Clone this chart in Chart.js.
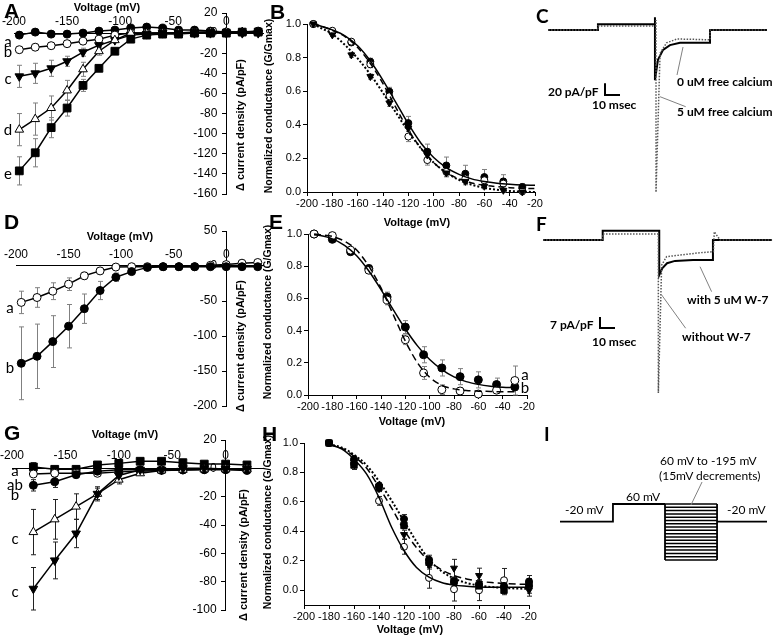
<!DOCTYPE html>
<html><head><meta charset="utf-8">
<script src="https://cdn.jsdelivr.net/npm/chart.js@4.4.1/dist/chart.umd.min.js"></script>
<style>
html,body{margin:0;padding:0;background:#fff;}
#fig{position:relative;width:778px;height:639px;overflow:hidden;background:#fff;font-family:'Liberation Sans',Arial,sans-serif;}
canvas{position:absolute;}
.t{position:absolute;white-space:nowrap;line-height:1;color:#000;}
.c{transform:translate(-50%,-50%);}
.r{transform:translate(-50%,-50%) rotate(-90deg);}
.ax{font:bold 11px 'Liberation Sans',Arial,sans-serif;}
.axs{font:bold 10.5px 'Liberation Sans',Arial,sans-serif;}
.pl{font:bold 21px 'Liberation Sans',Arial,sans-serif;}
.pl2{font:bold 19px Lato,sans-serif;}
.sl{font:15px Lato,sans-serif;}
.an{font:bold 12px Lato,sans-serif;}
.pr{font:12px Lato,sans-serif;}
</style></head>
<body>
<div id="fig">
<canvas id="cA" width="270" height="210" style="left:0;top:0"></canvas>
<canvas id="cB" width="285" height="228" style="left:260px;top:0"></canvas>
<canvas id="cC" width="258" height="210" style="left:520px;top:0"></canvas>
<canvas id="cD" width="270" height="210" style="left:0;top:210px"></canvas>
<canvas id="cE" width="285" height="215" style="left:260px;top:210px"></canvas>
<canvas id="cF" width="258" height="210" style="left:520px;top:210px"></canvas>
<canvas id="cG" width="270" height="219" style="left:0;top:420px"></canvas>
<canvas id="cH" width="285" height="219" style="left:260px;top:420px"></canvas>
<canvas id="cI" width="258" height="219" style="left:520px;top:420px"></canvas>

<!-- panel letters -->
<div class="t pl" style="left:4px;top:-1px">A</div>
<div class="t pl" style="left:270px;top:0px">B</div>
<div class="t pl2" style="left:536px;top:4px">C</div>
<div class="t pl" style="left:4px;top:210px">D</div>
<div class="t pl" style="left:269px;top:210px">E</div>
<div class="t pl2" style="left:536px;top:212px">F</div>
<div class="t pl" style="left:4px;top:421px">G</div>
<div class="t pl" style="left:262px;top:422px">H</div>
<div class="t pl2" style="left:544px;top:422px">I</div>

<!-- axis titles -->
<div class="t ax c" style="left:107px;top:7px">Voltage (mV)</div>
<div class="t ax r" style="left:240px;top:125px">Δ current density (pA/pF)</div>
<div class="t ax c" style="left:417px;top:222px">Voltage (mV)</div>
<div class="t axs r" style="left:268px;top:106px">Normalized conductance (G/Gmax)</div>
<div class="t ax c" style="left:120px;top:236px">Voltage (mV)</div>
<div class="t ax r" style="left:240px;top:346px">Δ current density (pA/pF)</div>
<div class="t ax c" style="left:412px;top:421px">Voltage (mV)</div>
<div class="t axs r" style="left:267px;top:312px">Normalized conductance (G/Gmax)</div>
<div class="t ax c" style="left:125px;top:434px">Voltage (mV)</div>
<div class="t ax r" style="left:243px;top:555px">Δ current density (pA/pF)</div>
<div class="t ax c" style="left:410px;top:629px">Voltage (mV)</div>
<div class="t axs r" style="left:267px;top:522px">Normalized conductance (G/Gmax)</div>

<!-- series letters -->
<div class="t sl c" style="left:8px;top:41px">a</div>
<div class="t sl c" style="left:8px;top:51px">b</div>
<div class="t sl c" style="left:8px;top:78px">c</div>
<div class="t sl c" style="left:8px;top:129px">d</div>
<div class="t sl c" style="left:8px;top:173px">e</div>
<div class="t sl c" style="left:10px;top:307px">a</div>
<div class="t sl c" style="left:10px;top:367px">b</div>
<div class="t sl c" style="left:525px;top:374px">a</div>
<div class="t sl c" style="left:525px;top:387px">b</div>
<div class="t sl c" style="left:15px;top:470px">a</div>
<div class="t sl c" style="left:15px;top:484px">ab</div>
<div class="t sl c" style="left:15px;top:494px">b</div>
<div class="t sl c" style="left:15px;top:538px">c</div>
<div class="t sl c" style="left:15px;top:591px">c</div>

<!-- trace annotations -->
<div class="t an" style="left:548px;top:84px">20 pA/pF</div>
<div class="t an" style="left:592px;top:97px">10 msec</div>
<div class="t an" style="left:677px;top:74px">0 uM free calcium</div>
<div class="t an" style="left:677px;top:104px">5 uM free calcium</div>
<div class="t an" style="left:550px;top:317px">7 pA/pF</div>
<div class="t an" style="left:592px;top:334px">10 msec</div>
<div class="t an" style="left:687px;top:292px">with 5 uM W-7</div>
<div class="t an" style="left:682px;top:329px">without W-7</div>

<!-- protocol annotations -->
<div class="t pr" style="left:565px;top:502px">-20 mV</div>
<div class="t pr" style="left:626px;top:489px">60 mV</div>
<div class="t pr" style="left:727px;top:502px">-20 mV</div>
<div class="t pr" style="left:660px;top:453px">60 mV to -195 mV</div>
<div class="t pr" style="left:659px;top:468px">(15mV decrements)</div>
</div>

<script>
// ---------------- DATA ----------------
// Panel A: current density vs voltage
const aVolt  = [-195,-180,-165,-150,-135,-120,-105,-90,-75,-60,-45,-30,-15,0,15,30];
const aSerA  = [-2,1,-1,-1,0,2,3,5,6,5,3,3,2,1,1,2];
const aSerB  = [-16.5,-14,-12.5,-10.5,-8,-6,-2,0,0,0,0,1,1,1,1,1];
const aSerC  = [-43,-40,-35,-28,-19,-12,-7,-2,-1,0,0,0,0,0,0,0];
const aSerD  = [-96,-85.5,-74.5,-57,-36,-18,-7,0,0,0,0,0,1,1,1,1];
const aSerE  = [-137,-119,-94,-74.5,-52,-35,-18,-6,-2,-1,-1,0,0,0,1,1];
const aErrA  = [2,1,1,1,1,1,1,1,1,1,1,1,1,1,1,1];
const aErrB  = [3,3,3,3,2,2,1,1,1,1,1,1,1,1,1,1];
const aErrC  = [11,10,8,5,4,3,2,1,1,1,1,1,1,1,1,1];
const aErrD  = [16,16,12,10,7,4,2,1,1,1,1,1,1,1,1,1];
const aErrE  = [14,14,10,8,6,3,2,1,1,1,1,1,1,1,1,1];
const aXTicks = [-200,-150,-100,-50,0];
const aYTicks = [20,0,-20,-40,-60,-80,-100,-120,-140,-160];

// Panel B: normalized conductance
const bVolt   = [-195,-180,-165,-150,-135,-120,-105,-90,-75,-60,-45,-30];
const bFilled = [1.0,0.955,0.89,0.776,0.598,0.41,0.24,0.158,0.109,0.089,0.063,0.03];
const bOpen   = [1.0,0.96,0.895,0.76,0.57,0.33,0.19,0.12,0.08,0.07,0.05,0.005];
const bTri    = [1.0,0.935,0.816,0.687,0.53,0.38,0.22,0.113,0.063,0.034,0.01,0.0];
const bErrFilled = [0,0.01,0.01,0.02,0.025,0.04,0.045,0.05,0.05,0.045,0.04,0.02];
const bErrOpen   = [0,0.01,0.01,0.02,0.02,0.03,0.03,0.03,0.03,0.03,0.03,0.02];
const bErrTri    = [0,0.01,0.015,0.015,0.02,0.02,0.02,0.02,0.02,0.015,0.01,0.01];
const bFitVolt   = [-195,-190,-180,-170,-160,-150,-140,-130,-120,-110,-100,-90,-80,-70,-60,-50,-40,-30,-20];
const bFitSolid  = [1.0,0.99,0.965,0.93,0.87,0.78,0.665,0.535,0.405,0.29,0.205,0.145,0.105,0.078,0.062,0.052,0.046,0.042,0.04];
const bFitDashed = [1.0,0.99,0.962,0.925,0.86,0.765,0.645,0.505,0.37,0.26,0.175,0.115,0.078,0.054,0.04,0.032,0.026,0.022,0.02];
const bFitDotted = [1.0,0.98,0.94,0.875,0.795,0.70,0.59,0.475,0.36,0.26,0.175,0.115,0.072,0.043,0.025,0.013,0.006,0.002,0.0];
const condXTicks = [-200,-180,-160,-140,-120,-100,-80,-60,-40,-20];
const condYTicks = [0,0.2,0.4,0.6,0.8,1.0];

// Panel C: current traces (time ms, current pA/pF)
const cTime0  = [0,33.3,33.3,71.3,71.3,71.3,73.3,76.7,81.3,88,97,108,108,146];
const cZeroCa = [0,0,10,10,22,-86,-51,-34,-26,-22,-22,-22,0,0];
const cTime5  = [0,33.3,33.3,72,72,72,74.7,79,86,97,108,108,146];
const cFiveCa = [0,0,7,7,17,-278,-40,-22,-15.5,-16,-17,0,0];
const cBarT = [38,38,48];
const cBarI = [-91.5,-111.5,-111.5];

// Panel D
const dVolt  = [-195,-180,-165,-150,-135,-120,-105,-90,-75,-60,-45,-30,-15,0,15,30];
const dSerA  = [-52,-45,-36,-26,-14,-7,-1.5,-1,-1,-1,-1,-1,1,2,4,5];
const dSerB  = [-139,-129,-108,-86,-61,-35,-16,-8,-2,-1,-1,-1,-1,-1,-1,-1];
const dErrA  = [16,14,12,9,5,3,1,1,1,1,1,1,1,1,1,1];
const dErrB  = [52,46,37,31,21,13,6,2,1,1,1,1,1,1,1,1];
const dXTicks = [-200,-150,-100,-50,0];
const dYTicks = [50,0,-50,-100,-150,-200];

// Panel E
const eVolt   = [-195,-180,-165,-150,-135,-120,-105,-90,-75,-60,-45,-30];
const eFilled = [1.0,0.967,0.89,0.786,0.609,0.422,0.25,0.168,0.114,0.094,0.065,0.05];
const eOpen   = [1.0,0.99,0.9,0.775,0.59,0.343,0.137,0.033,0.025,0.006,0.03,0.09];
const eErrFilled = [0,0.01,0.01,0.02,0.03,0.04,0.05,0.05,0.05,0.05,0.04,0.02];
const eErrOpen   = [0,0.01,0.01,0.02,0.03,0.03,0.04,0.03,0.02,0.02,0.02,0.09];
const eFitVolt   = [-195,-190,-180,-170,-160,-150,-140,-130,-120,-110,-100,-90,-80,-70,-60,-50,-40,-30];
const eFitSolid  = [0.995,0.99,0.97,0.93,0.865,0.77,0.655,0.53,0.41,0.305,0.22,0.158,0.113,0.083,0.066,0.055,0.048,0.045];
const eFitDashed = [1.0,0.995,0.985,0.955,0.9,0.80,0.665,0.50,0.335,0.20,0.11,0.06,0.038,0.028,0.024,0.022,0.02,0.02];

// Panel F: current traces
const fTimeW  = [0,39.8,39.8,77.5,77.5,79.5,82.7,88,100,113.3,113.3,152.7];
const fWithW7 = [0,0,5.9,5.9,-22.3,-18,-14.8,-13.3,-12.7,-12.7,0,0];
const fTimeNo = [0,39.8,39.8,76.9,76.9,79.1,82.4,91.3,104.7,113.6,114.2,118,152.7];
const fWithout= [0,0,3.8,3.8,-97.5,-16,-10.6,-9.6,-8.1,-7.4,5.3,0,0];
const fBarT = [38,38,48];
const fBarI = [-49,-56,-56];

// Panel G
const gVolt      = [-180,-160,-140,-120,-100,-80,-60,-40,-20,0,20];
const gSquare    = [1,-0.7,-0.7,2.4,3.5,5,5,4,3,3,2.4];
const gOpenCirc  = [-4,-3.5,-3.5,-3.5,-2.5,-2,-1.5,-1.2,-0.7,-0.5,-0.5];
const gFillCirc  = [-12,-9.5,-4.5,-2,-1,-1,-1,-1,-1,-1,-1.5];
const gOpenTri   = [-45,-36,-27,-18,-8,-3.5,-1.5,-1,-0.7,-0.7,-0.7];
const gFillTri   = [-85,-65,-46,-18,-5,-1,-1,0,0,-0.5,-0.5];
const gErrSquare = [3,2,2,2,1,1,1,1,1,1,1];
const gErrOpenCirc = [2,2,2,1,1,1,1,1,1,1,1];
const gErrFillCirc = [4,4,2,1,1,1,1,1,1,1,1];
const gErrOpenTri  = [16,14,9,5,3,1,1,1,1,1,1];
const gErrFillTri  = [15,13,10,4,1,1,1,1,1,1,1];
const gXTicks = [-200,-150,-100,-50,0];
const gYTicks = [20,0,-20,-40,-60,-80,-100];

// Panel H
const hVolt    = [-180,-160,-140,-120,-100,-80,-60,-40,-20];
const hOpen    = [1.0,0.86,0.607,0.295,0.084,0.007,0.0,0.068,0.03];
const hFilled  = [1.0,0.89,0.71,0.484,0.208,0.057,0.04,0.03,0.06];
const hTri     = [1.0,0.87,0.69,0.378,0.174,0.15,0.10,0.016,0.0];
const hSquare  = [1.0,0.85,0.70,0.44,0.19,0.06,0.03,0.0,0.04];
const hErrOpen   = [0,0.02,0.03,0.05,0.07,0.08,0.07,0.08,0.05];
const hErrFilled = [0,0.02,0.02,0.03,0.03,0.03,0.03,0.03,0.04];
const hErrTri    = [0,0.02,0.02,0.03,0.03,0.06,0.05,0.03,0.04];
const hErrSquare = [0,0.03,0.02,0.02,0.03,0.02,0.02,0.03,0.03];
const hFitVolt   = [-180,-170,-160,-150,-140,-130,-120,-110,-100,-90,-80,-70,-60,-50,-40,-30,-20];
const hFitSolid  = [0.99,0.96,0.89,0.79,0.63,0.43,0.27,0.155,0.09,0.053,0.035,0.027,0.022,0.02,0.02,0.02,0.02];
const hFitDashed = [0.99,0.965,0.91,0.83,0.70,0.56,0.41,0.29,0.20,0.14,0.10,0.077,0.062,0.052,0.046,0.042,0.04];
const hFitDotted = [0.99,0.97,0.92,0.85,0.74,0.61,0.47,0.33,0.21,0.13,0.08,0.05,0.032,0.022,0.016,0.012,0.01];

// Panel I: voltage protocol (time ms, voltage mV)
const protoTime = [0,35.3,35.3,70];
const protoVolt = [-20,-20,60,60];
const testLevels = [60,45,30,15,0,-15,-30,-45,-60,-75,-90,-105,-120,-135,-150,-165,-180,-195];
const testWindow = [70,104.7];
const tailTime = [104.7,138];
const tailVolt = [-20,-20];

// ---------------- HELPERS ----------------
Chart.defaults.font.family = "'Liberation Sans', Arial, sans-serif";
Chart.defaults.color = '#000';
Chart.defaults.animation = false;
Chart.defaults.events = [];
Chart.defaults.plugins.legend.display = false;
Chart.defaults.plugins.tooltip.enabled = false;

const pts = (xs, ys) => xs.map((x, i) => ({x: x, y: ys[i]}));

const errorBarPlugin = {
  id: 'errorBars',
  beforeDatasetsDraw(chart) {
    const ctx = chart.ctx;
    chart.data.datasets.forEach((ds, i) => {
      if (!ds.errorBars) return;
      const meta = chart.getDatasetMeta(i);
      const ys = chart.scales[meta.yAxisID];
      ctx.save();
      ctx.strokeStyle = ds.errorColor || '#808080';
      ctx.lineWidth = 1;
      meta.data.forEach((el, j) => {
        const e = ds.errorBars[j];
        if (!e) return;
        const v = ds.data[j].y;
        const y1 = ys.getPixelForValue(v + e), y2 = ys.getPixelForValue(v - e);
        const x = Math.round(el.x) + 0.5, w = 2.5;
        ctx.beginPath();
        ctx.moveTo(x, y1); ctx.lineTo(x, y2);
        ctx.moveTo(x - w, y1); ctx.lineTo(x + w, y1);
        ctx.moveTo(x - w, y2); ctx.lineTo(x + w, y2);
        ctx.stroke();
      });
      ctx.restore();
    });
  }
};

const crossYLabels = {
  id: 'crossYLabels',
  beforeDatasetsDraw(chart, args, opts) {
    const xs = chart.scales.x, ys = chart.scales.y, ctx = chart.ctx;
    const x0 = xs.getPixelForValue(0) - (opts.offset || 9);
    ctx.save();
    ctx.font = '12px "Liberation Sans", Arial, sans-serif';
    ctx.fillStyle = '#000'; ctx.textAlign = 'right'; ctx.textBaseline = 'middle';
    ys.ticks.forEach(t => ctx.fillText(t.label != null ? t.label : String(t.value), x0, ys.getPixelForValue(t.value)));
    ctx.restore();
  }
};

function markerSet(xs, ys, errs, style, filled, o) {
  o = o || {};
  return {
    data: pts(xs, ys), errorBars: errs, errorColor: o.ec || '#808080',
    showLine: o.line !== false, borderColor: '#000', borderWidth: o.lw || 1.5,
    pointStyle: style, pointRotation: o.rot || 0,
    pointRadius: o.r || 4, pointBorderWidth: 1, pointBorderColor: '#000',
    pointBackgroundColor: filled ? '#000' : '#fff', tension: 0, clip: false
  };
}
function fitSet(xs, ys, dash, w) {
  return {data: pts(xs, ys), borderColor: '#000', borderWidth: w, borderDash: dash,
    pointRadius: 0, cubicInterpolationMode: 'monotone', fill: false, clip: false};
}
function lineSet(xs, ys, color, w, dash) {
  return {data: pts(xs, ys), borderColor: color, borderWidth: w, borderDash: dash || [],
    pointRadius: 0, tension: 0, fill: false, clip: false};
}

function crossChart(id, c) {
  return new Chart(document.getElementById(id), {
    type: 'line',
    data: {datasets: c.datasets},
    options: {
      responsive: false, maintainAspectRatio: false,
      layout: {padding: c.pad},
      scales: {
        x: {type: 'linear', min: c.xmin, max: c.xmax, position: {y: 0},
          afterBuildTicks: s => { s.ticks = c.xticks.map(v => ({value: v})); },
          afterFit: s => { s.height = 0; },
          ticks: {font: {size: 12}, padding: c.xpad, color: '#000', maxRotation: 0, autoSkip: false},
          grid: {display: true, drawOnChartArea: false, drawTicks: false},
          border: {display: true, color: '#000', width: 1}},
        y: {type: 'linear', min: c.ymin, max: c.ymax, position: {x: 0},
          afterBuildTicks: s => { s.ticks = c.yticks.map(v => ({value: v})); },
          afterFit: s => { s.width = 0; },
          ticks: {display: false},
          grid: {display: true, drawOnChartArea: false, drawTicks: true, tickLength: 4, color: '#000'},
          border: {display: true, color: '#000', width: 1}}
      },
      plugins: {crossYLabels: {offset: 9}}
    },
    plugins: [errorBarPlugin, crossYLabels]
  });
}

function condChart(id, c) {
  return new Chart(document.getElementById(id), {
    type: 'line',
    data: {datasets: c.datasets},
    options: {
      responsive: false, maintainAspectRatio: false,
      layout: {padding: {left: 0, top: c.top, right: c.right, bottom: 0}},
      scales: {
        x: {type: 'linear', min: -200, max: -20, position: 'bottom',
          afterBuildTicks: s => { s.ticks = condXTicks.map(v => ({value: v})); },
          afterFit: s => { s.height = c.xh; },
          ticks: {font: {size: 11}, padding: 1, color: '#000', maxRotation: 0, autoSkip: false},
          grid: {drawOnChartArea: false, tickLength: 4, color: '#000'},
          border: {color: '#000', width: 1}},
        y: {type: 'linear', min: c.ymin, max: 1.0, position: 'left',
          afterBuildTicks: s => { s.ticks = condYTicks.map(v => ({value: v})); },
          afterFit: s => { s.width = c.yw; },
          ticks: {font: {size: 11}, padding: 2, color: '#000', callback: v => Number(v).toFixed(1)},
          grid: {drawOnChartArea: false, tickLength: 4, color: '#000'},
          border: {color: '#000', width: 1}}
      }
    },
    plugins: [errorBarPlugin]
  });
}

function traceChart(id, c) {
  return new Chart(document.getElementById(id), {
    type: 'line',
    data: {datasets: c.datasets},
    options: {
      responsive: false, maintainAspectRatio: false,
      layout: {padding: 0},
      scales: {
        x: {type: 'linear', display: false, min: c.xmin, max: c.xmax},
        y: {type: 'linear', display: false, min: c.ymin, max: c.ymax}
      }
    }
  });
}

// ---------------- CHARTS ----------------
crossChart('cA', {
  pad: {left: 14, right: 6, top: 13, bottom: 16},
  xmin: -200, xmax: 35, ymin: -160, ymax: 20, xpad: -18.3,
  xticks: aXTicks, yticks: aYTicks,
  datasets: [
    markerSet(aVolt, aSerE, aErrE, 'rect', true, {r: 5.5}),
    markerSet(aVolt, aSerD, aErrD, 'triangle', false, {r: 5}),
    markerSet(aVolt, aSerC, aErrC, 'triangle', true, {r: 5, rot: 180}),
    markerSet(aVolt, aSerB, aErrB, 'circle', false),
    markerSet(aVolt, aSerA, aErrA, 'circle', true)
  ]
});

condChart('cB', {
  top: 24, right: 10, xh: 36, yw: 47, ymin: 0,
  datasets: [
    fitSet(bFitVolt, bFitSolid, [], 1.5),
    fitSet(bFitVolt, bFitDashed, [6, 4], 1.5),
    fitSet(bFitVolt, bFitDotted, [2, 2], 2),
    markerSet(bVolt, bTri, bErrTri, 'triangle', true, {line: false, r: 4, rot: 180}),
    markerSet(bVolt, bOpen, bErrOpen, 'circle', false, {line: false, r: 3.5}),
    markerSet(bVolt, bFilled, bErrFilled, 'circle', true, {line: false, r: 3.5})
  ]
});

traceChart('cC', {
  xmin: -18.67, xmax: 153.33, ymin: -308.6, ymax: 51.4,
  datasets: [
    lineSet(cTime5, cFiveCa, '#555', 1.5, [1.5, 1.5]),
    lineSet(cTime0, cZeroCa, '#000', 2),
    lineSet(cBarT, cBarI, '#000', 2),
    lineSet([90, 86], [-29.2, -77.2], '#808080', 1),
    lineSet([74.7, 91.8], [-114.4, -131.5], '#808080', 1)
  ]
});

crossChart('cD', {
  pad: {left: 16, right: 7, top: 21, bottom: 14},
  xmin: -200, xmax: 35, ymin: -200, ymax: 50, xpad: -18.2,
  xticks: dXTicks, yticks: dYTicks,
  datasets: [
    markerSet(dVolt, dSerB, dErrB, 'circle', true),
    markerSet(dVolt, dSerA, dErrA, 'circle', false)
  ]
});

condChart('cE', {
  top: 24, right: 18, xh: 30, yw: 48, ymin: 0,
  datasets: [
    fitSet(eFitVolt, eFitSolid, [], 1.5),
    fitSet(eFitVolt, eFitDashed, [7, 4], 1.5),
    markerSet(eVolt, eOpen, eErrOpen, 'circle', false, {line: false, r: 4}),
    markerSet(eVolt, eFilled, eErrFilled, 'circle', true, {line: false, r: 4})
  ]
});

traceChart('cF', {
  xmin: -15.33, xmax: 156.67, ymin: -114.65, ymax: 19.11,
  datasets: [
    lineSet(fTimeNo, fWithout, '#555', 1.5, [1.5, 1.5]),
    lineSet(fTimeW, fWithW7, '#000', 2),
    lineSet(fBarT, fBarI, '#000', 2),
    lineSet([104.7, 112.4], [-17, -32.9], '#808080', 1),
    lineSet([79.1, 95.1], [-35, -56.2], '#808080', 1)
  ]
});

crossChart('cG', {
  pad: {left: 12, right: 7, top: 20, bottom: 29},
  xmin: -200, xmax: 35, ymin: -100, ymax: 20, xpad: -19.5,
  xticks: gXTicks, yticks: gYTicks,
  datasets: [
    markerSet(gVolt, gFillTri, gErrFillTri, 'triangle', true, {r: 5, rot: 180, ec: '#222'}),
    markerSet(gVolt, gOpenTri, gErrOpenTri, 'triangle', false, {r: 5, ec: '#222'}),
    markerSet(gVolt, gFillCirc, gErrFillCirc, 'circle', true, {ec: '#222'}),
    markerSet(gVolt, gOpenCirc, gErrOpenCirc, 'circle', false, {ec: '#222'}),
    markerSet(gVolt, gSquare, gErrSquare, 'rect', true, {r: 5.5, ec: '#222'})
  ]
});

condChart('cH', {
  top: 23, right: 16, xh: 34, yw: 44, ymin: -0.1,
  datasets: [
    fitSet(hFitVolt, hFitSolid, [], 1.5),
    fitSet(hFitVolt, hFitDashed, [7, 4], 1.5),
    fitSet(hFitVolt, hFitDotted, [2, 2], 2),
    markerSet(hVolt, hSquare, hErrSquare, 'rect', true, {line: false, r: 4.5, ec: '#222'}),
    markerSet(hVolt, hTri, hErrTri, 'triangle', true, {line: false, r: 4, rot: 180, ec: '#222'}),
    markerSet(hVolt, hFilled, hErrFilled, 'circle', true, {line: false, r: 3.5, ec: '#222'}),
    markerSet(hVolt, hOpen, hErrOpen, 'circle', false, {line: false, r: 3.5, ec: '#222'})
  ]
});

const levelSets = testLevels.map(L => lineSet(testWindow, [L, L], '#000', 1.5));
traceChart('cI', {
  xmin: -26.67, xmax: 145.33, ymin: -554.75, ymax: 442.5,
  datasets: [
    lineSet(protoTime, protoVolt, '#000', 1.8),
    lineSet([testWindow[0], testWindow[0]], [testLevels[0], testLevels[testLevels.length - 1]], '#000', 1.8),
    lineSet([testWindow[1], testWindow[1]], [testLevels[0], testLevels[testLevels.length - 1]], '#000', 1.8),
    lineSet(tailTime, tailVolt, '#000', 1.8),
    lineSet([94.7, 87.3], [160.2, 55.4], '#808080', 1)
  ].concat(levelSets)
});
</script>
</body></html>
